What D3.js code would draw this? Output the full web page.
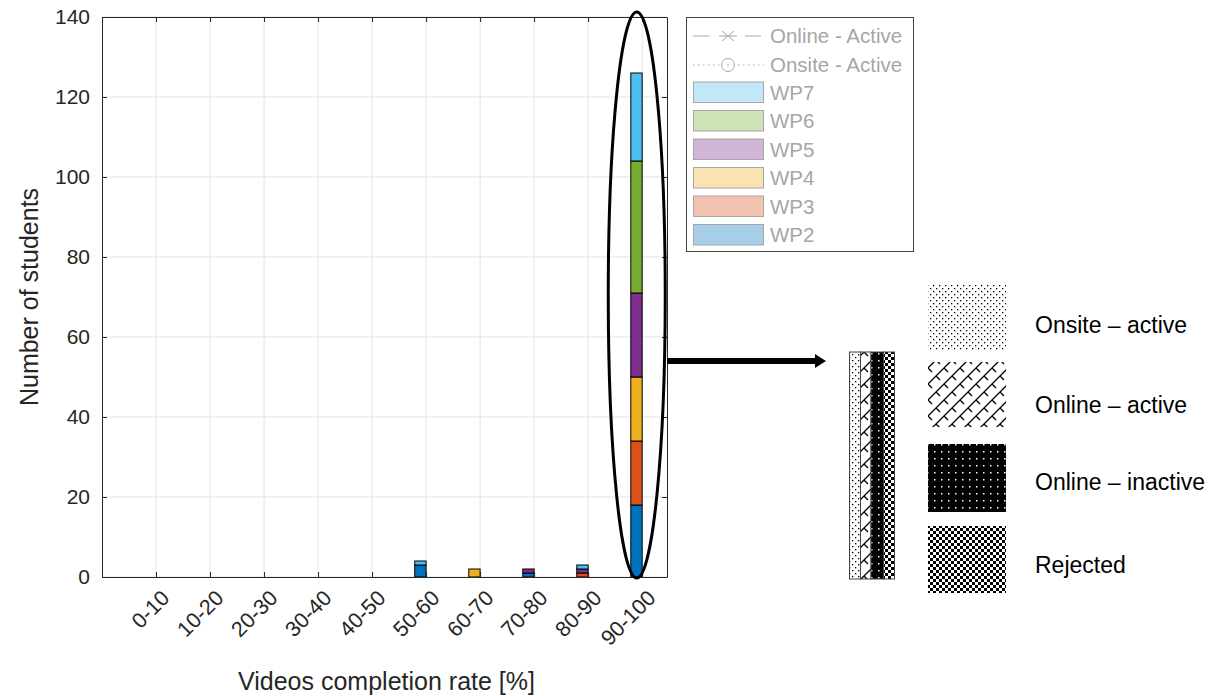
<!DOCTYPE html>
<html>
<head>
<meta charset="utf-8">
<script src="https://cdn.jsdelivr.net/npm/d3@7"></script>
<style>
  body { margin: 0; background: #fff; }
  svg { font-family: "Liberation Sans", Arial, sans-serif; }
</style>
</head>
<body>
<svg id="chart" width="1220" height="696"></svg>
<script>
const categories = ['0-10', '10-20', '20-30', '30-40', '40-50', '50-60', '60-70', '70-80', '80-90', '90-100'];
const wp2 = [0, 0, 0, 0, 0, 3, 0, 1, 0, 18];
const wp3 = [0, 0, 0, 0, 0, 0, 0, 0, 1, 16];
const wp4 = [0, 0, 0, 0, 0, 0, 2, 0, 0, 16];
const wp5 = [0, 0, 0, 0, 0, 0, 0, 1, 1, 21];
const wp6 = [0, 0, 0, 0, 0, 0, 0, 0, 0, 33];
const wp7 = [0, 0, 0, 0, 0, 1, 0, 0, 1, 22];
const seriesNames = ['WP2', 'WP3', 'WP4', 'WP5', 'WP6', 'WP7'];
const seriesColors = ['#0072BD', '#D95319', '#EDB120', '#7E2F8E', '#77AC30', '#4DBEEE'];
const yTicks = [0, 20, 40, 60, 80, 100, 120, 140];
const lineEntries = ['Online - Active', 'Onsite - Active'];
const patternNames = ['Onsite \u2013 active', 'Online \u2013 active', 'Online \u2013 inactive', 'Rejected'];

const margin = { top: 17, right: 553, bottom: 119, left: 102 },
  width = 1220,
  height = 696;

const svg = d3.select('#chart');
const axisColor = '#262626';

const x = d3.scaleLinear().domain([0, 10.46]).range([margin.left, width - margin.right]);
const y = d3.scaleLinear().domain([0, 140]).range([height - margin.bottom, margin.top]);

// patterns
const defs = svg.append('defs');
const pDots = defs.append('pattern').attr('id', 'p-onsite').attr('patternUnits', 'userSpaceOnUse')
  .attr('width', 6).attr('height', 6);
pDots.append('rect').attr('width', 6).attr('height', 6).attr('fill', '#fff');
pDots.append('rect').attr('x', 0).attr('y', 0).attr('width', 1.3).attr('height', 1.3).attr('fill', '#000');
pDots.append('rect').attr('x', 3).attr('y', 3).attr('width', 1.3).attr('height', 1.3).attr('fill', '#000');

const pHatch = defs.append('pattern').attr('id', 'p-online').attr('patternUnits', 'userSpaceOnUse')
  .attr('width', 16).attr('height', 16);
pHatch.append('rect').attr('width', 16).attr('height', 16).attr('fill', '#fff');
pHatch.append('path').attr('d', 'M0,16 L16,0 M-4,4 L4,-4 M12,20 L20,12 M8,8 L12,12 M0,0 L4,4')
  .attr('stroke', '#000').attr('stroke-width', 1.3).attr('fill', 'none');

const pInact = defs.append('pattern').attr('id', 'p-inactive').attr('patternUnits', 'userSpaceOnUse')
  .attr('width', 7).attr('height', 7);
pInact.append('rect').attr('width', 7).attr('height', 7).attr('fill', '#000');
pInact.append('rect').attr('x', 3).attr('y', 3).attr('width', 1.5).attr('height', 1.5).attr('fill', '#fff');

const pCheck = defs.append('pattern').attr('id', 'p-rejected').attr('patternUnits', 'userSpaceOnUse')
  .attr('width', 6).attr('height', 6);
pCheck.append('rect').attr('width', 6).attr('height', 6).attr('fill', '#fff');
pCheck.append('rect').attr('width', 3).attr('height', 3).attr('fill', '#000');
pCheck.append('rect').attr('x', 3).attr('y', 3).attr('width', 3).attr('height', 3).attr('fill', '#000');
const patternIds = ['p-onsite', 'p-online', 'p-inactive', 'p-rejected'];

// grid
const positions = categories.map((c, i) => i + 1);
svg.append('g').selectAll('line').data(positions).join('line')
  .attr('x1', d => x(d)).attr('x2', d => x(d))
  .attr('y1', y(0)).attr('y2', y(140))
  .attr('stroke', '#e3e3e3').attr('stroke-width', 1);
svg.append('g').selectAll('line').data(yTicks).join('line')
  .attr('x1', x(0)).attr('x2', x(10.46))
  .attr('y1', d => y(d)).attr('y2', d => y(d))
  .attr('stroke', '#e3e3e3').attr('stroke-width', 1);

// stacked bars
const rows = categories.map((c, i) => ({ cat: c, pos: i + 1, WP2: wp2[i], WP3: wp3[i], WP4: wp4[i], WP5: wp5[i], WP6: wp6[i], WP7: wp7[i] }));
const stack = d3.stack().keys(seriesNames)(rows);
svg.append('g').selectAll('g').data(stack).join('g')
  .attr('fill', (d, i) => seriesColors[i])
  .selectAll('rect').data(d => d).join('rect')
  .attr('x', d => x(d.data.pos - 0.21))
  .attr('width', d => x(d.data.pos) - x(d.data.pos - 0.21))
  .attr('y', d => y(d[1]))
  .attr('height', d => y(d[0]) - y(d[1]))
  .attr('stroke', '#000').attr('stroke-width', 1);

// axes
const xAxis = svg.append('g').attr('transform', `translate(0,${y(0)})`)
  .call(d3.axisBottom(x).tickValues(positions).tickFormat((d, i) => categories[i]).tickSize(-5).tickSizeOuter(0));
xAxis.select('.domain').attr('stroke', axisColor);
xAxis.selectAll('.tick line').attr('stroke', axisColor);
xAxis.selectAll('.tick text')
  .attr('font-size', 21.5).attr('fill', axisColor)
  .attr('text-anchor', 'end')
  .attr('transform', 'translate(9,17) rotate(-45)')
  .attr('dy', '0.35em').attr('y', 0);

const xTop = svg.append('g').attr('transform', `translate(0,${y(140)})`)
  .call(d3.axisTop(x).tickValues(positions).tickFormat('').tickSize(-5).tickSizeOuter(0));
xTop.selectAll('path, line').attr('stroke', axisColor);

const yAxis = svg.append('g').attr('transform', `translate(${x(0)},0)`)
  .call(d3.axisLeft(y).tickValues(yTicks).tickSize(-5).tickSizeOuter(0).tickPadding(12));
yAxis.selectAll('path, line').attr('stroke', axisColor);
yAxis.selectAll('.tick text').attr('font-size', 21).attr('fill', axisColor);

const yRight = svg.append('g').attr('transform', `translate(${x(10.46)},0)`)
  .call(d3.axisRight(y).tickValues(yTicks).tickFormat('').tickSize(-5).tickSizeOuter(0));
yRight.selectAll('path, line').attr('stroke', axisColor);

svg.append('text')
  .attr('x', (x(0) + x(10.46)) / 2 + 2).attr('y', 690)
  .attr('text-anchor', 'middle').attr('font-size', 25).attr('fill', axisColor)
  .text('Videos completion rate [%]');
svg.append('text')
  .attr('transform', `translate(38,${(y(0) + y(140)) / 2}) rotate(-90)`)
  .attr('text-anchor', 'middle').attr('font-size', 25).attr('fill', axisColor)
  .text('Number of students');

// legend
const lg = svg.append('g');
lg.append('rect').attr('x', 686.5).attr('y', 17.5).attr('width', 227).attr('height', 234)
  .attr('fill', '#fff').attr('stroke', '#444').attr('stroke-width', 1);
const grey = '#a6a6a6';
const lineRowY = [36, 65];
lineEntries.forEach((name, i) => {
  const ly = lineRowY[i];
  lg.append('line').attr('x1', 693).attr('x2', 764).attr('y1', ly).attr('y2', ly)
    .attr('stroke', grey).attr('stroke-width', 1)
    .attr('stroke-dasharray', i === 0 ? '16,10' : '1.5,3.5');
  if (i === 0) {
    lg.append('rect').attr('x', 717).attr('y', ly - 8).attr('width', 22).attr('height', 16).attr('fill', '#fff');
    lg.append('path').attr('d', `M${722},${ly - 5} L${734},${ly + 5} M${722},${ly + 5} L${734},${ly - 5} M${719},${ly} L${737},${ly}`)
      .attr('stroke', grey).attr('stroke-width', 1).attr('fill', 'none');
  } else {
    lg.append('circle').attr('cx', 728).attr('cy', ly).attr('r', 6.5)
      .attr('fill', '#fff').attr('stroke', grey).attr('stroke-width', 1);
    lg.append('circle').attr('cx', 728).attr('cy', ly).attr('r', 0.8).attr('fill', grey);
  }
  lg.append('text').attr('x', 770).attr('y', ly).attr('dy', '0.36em')
    .attr('font-size', 20.5).attr('fill', grey).text(name);
});
const legendOrder = seriesNames.map((n, i) => i).reverse();
legendOrder.forEach((si, k) => {
  const ty = 82 + k * 28.5;
  lg.append('rect').attr('x', 693.5).attr('y', ty).attr('width', 70).attr('height', 20.5)
    .attr('fill', seriesColors[si]).attr('fill-opacity', 0.35)
    .attr('stroke', grey).attr('stroke-width', 1);
  lg.append('text').attr('x', 770).attr('y', ty + 10.5).attr('dy', '0.36em')
    .attr('font-size', 20.5).attr('fill', grey).text(seriesNames[si]);
});

// annotation: ellipse around 90-100 bar and arrow
svg.append('ellipse')
  .attr('cx', x(9.9)).attr('cy', (y(0) + y(141)) / 2)
  .attr('rx', 28.5).attr('ry', (y(0) - y(141)) / 2 + 1)
  .attr('fill', 'none').attr('stroke', '#000').attr('stroke-width', 3);
svg.append('path')
  .attr('d', 'M667,358 L815,358 L815,354 L826,361 L815,368 L815,364 L667,364 Z')
  .attr('fill', '#000');

// pattern legend: small bar of four strips
const stripX = [849.5, 860.5, 871, 883.5, 894.5];
patternIds.forEach((pid, i) => {
  svg.append('rect').attr('x', stripX[i]).attr('y', 352).attr('width', stripX[i + 1] - stripX[i]).attr('height', 227)
    .attr('fill', `url(#${pid})`).attr('stroke', '#444').attr('stroke-width', 1);
});
const swY = [284, 362, 444, 526];
const swH = [67, 65, 68, 67];
const labelY = [325, 405, 482, 565];
patternNames.forEach((name, i) => {
  svg.append('rect').attr('x', 928).attr('y', swY[i]).attr('width', 78).attr('height', swH[i])
    .attr('fill', `url(#${patternIds[i]})`);
  svg.append('text').attr('x', 1035).attr('y', labelY[i]).attr('dy', '0.35em')
    .attr('font-size', 23).attr('fill', '#000').text(name);
});
</script>
</body>
</html>
